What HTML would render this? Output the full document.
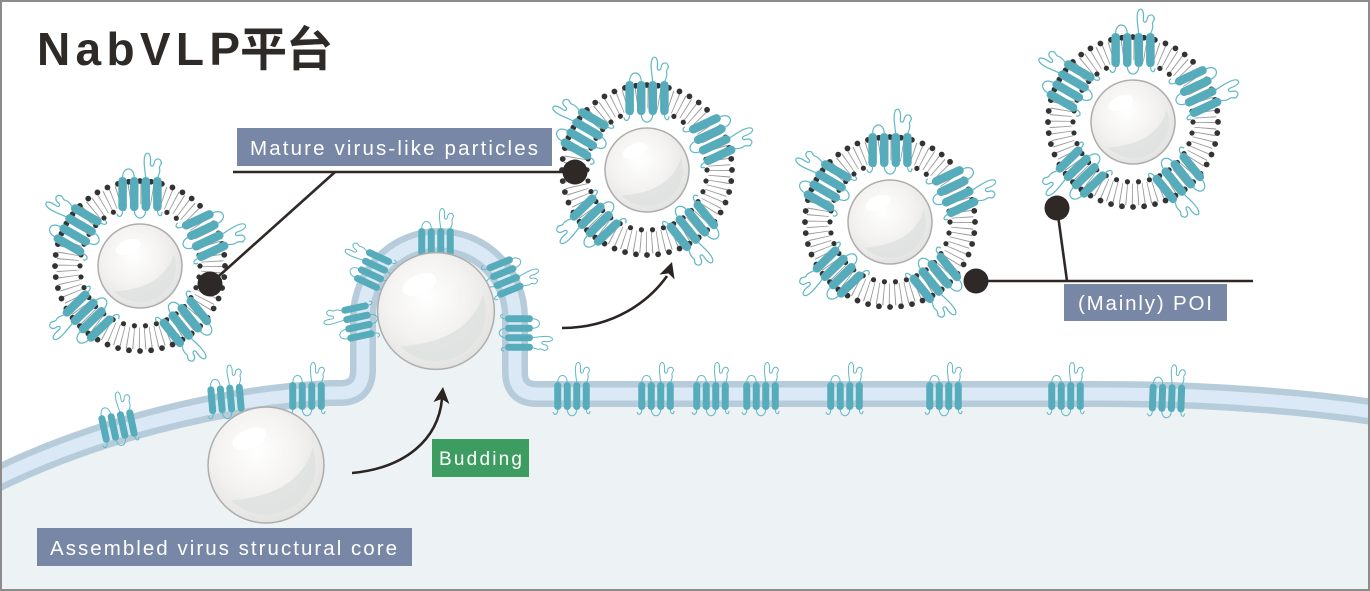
<!DOCTYPE html>
<html>
<head>
<meta charset="utf-8">
<style>
html,body{margin:0;padding:0;background:#fff;}
svg{display:block;}
text{font-family:"Liberation Sans","Noto Sans CJK SC",sans-serif;}
</style>
</head>
<body>
<svg width="1370" height="591" viewBox="0 0 1370 591" xmlns="http://www.w3.org/2000/svg">
<defs>
  <radialGradient id="sg" cx="0.42" cy="0.38" r="0.65">
    <stop offset="0" stop-color="#ffffff"/>
    <stop offset="0.55" stop-color="#f3f2f0"/>
    <stop offset="1" stop-color="#e2e2e0"/>
  </radialGradient>
  <g id="core">
    <circle r="42" fill="url(#sg)" stroke="#adadad" stroke-width="1.5" vector-effect="non-scaling-stroke"/>
    <path d="M-25.5,25.5 A36,36 0 0 0 33.8,-12.3 Q24,22 -25.5,25.5 Z" fill="#dfe2e2" opacity="0.85"/>
    <ellipse cx="-12" cy="-19" rx="13" ry="7" transform="rotate(-22 -12 -19)" fill="#ffffff" opacity="0.9"/>
  </g>
  <g id="p">
    <g fill="#56acba">
      <rect x="-17.75" y="-14" width="7" height="28" rx="3.5"/>
      <rect x="-8.25" y="-14" width="7" height="28" rx="3.5"/>
      <rect x="1.25" y="-14" width="7" height="28" rx="3.5"/>
      <rect x="10.75" y="-14" width="7" height="28" rx="3.5"/>
    </g>
    <path fill="none" stroke="#62b8c6" stroke-width="1"
      d="M-14.25,-13 C-14.5,-23 -4.5,-23 -4.75,-13
         M4.75,-13 C4,-20 2,-30 5,-33 C8,-35 9,-30 8.5,-26 C8,-22 11,-22 11.5,-25 C12,-29 16,-30 17,-27 C19,-25 15,-23 16,-21 C17,-18 15,-15 14.25,-13
         M-14.25,13 C-14,19 -18,20 -19,16
         M-4.75,13 C-4.5,22 4.5,22 4.75,13
         M14.25,13 C14.5,19 18,19 18,15"/>
  </g>
  <g id="vlp">
    <circle r="72.5" fill="none" stroke="#9a9a9a" stroke-width="22" stroke-dasharray="0.9 4.8"/>
    <circle r="85" fill="none" stroke="#333" stroke-width="5.8" stroke-linecap="round" stroke-dasharray="0 11.12"/>
    <circle r="60" fill="none" stroke="#333" stroke-width="5.2" stroke-linecap="round" stroke-dasharray="0 11.09"/>
    <use href="#p" transform="rotate(0) translate(0,-72) scale(1.22)"/>
    <use href="#p" transform="rotate(65) translate(0,-72) scale(1.22)"/>
    <use href="#p" transform="rotate(141) translate(0,-72) scale(1.22)"/>
    <use href="#p" transform="rotate(226) translate(0,-72) scale(1.22)"/>
    <use href="#p" transform="rotate(300) translate(0,-72) scale(1.22)"/>
    <use href="#core"/>
  </g>
</defs>

<rect x="0" y="0" width="1370" height="591" fill="#ffffff"/>

<!-- cell interior -->
<path d="M-10,482 C90,432 220,398 330,393 L340,393 Q363,393 363,370 L363,317 A76,76 0 0 1 515,317 L515,372 Q515,394 537,394 L1100,394 C1200,394 1300,401 1380,413 L1380,600 L-10,600 Z" fill="#edf2f5"/>
<!-- membrane -->
<path d="M-10,482 C90,432 220,398 330,393 L340,393 Q363,393 363,370 L363,317 A76,76 0 0 1 515,317 L515,372 Q515,394 537,394 L1100,394 C1200,394 1300,401 1380,413" fill="none" stroke="#b7ccda" stroke-width="26"/>
<path d="M-10,482 C90,432 220,398 330,393 L340,393 Q363,393 363,370 L363,317 A76,76 0 0 1 515,317 L515,372 Q515,394 537,394 L1100,394 C1200,394 1300,401 1380,413" fill="none" stroke="#dbe9f7" stroke-width="13"/>

<!-- membrane proteins -->
<use href="#p" transform="translate(118,426) rotate(-12)"/>
<use href="#p" transform="translate(226,399) rotate(-5)"/>
<use href="#p" transform="translate(307,396)"/>
<use href="#p" transform="translate(358,322) rotate(-102)"/>
<use href="#p" transform="translate(373,270) rotate(-65)"/>
<use href="#p" transform="translate(436,242)"/>
<use href="#p" transform="translate(505,277) rotate(68)"/>
<use href="#p" transform="translate(519,333) rotate(90)"/>
<use href="#p" transform="translate(572,396)"/>
<use href="#p" transform="translate(656,396)"/>
<use href="#p" transform="translate(711,396)"/>
<use href="#p" transform="translate(761,396)"/>
<use href="#p" transform="translate(845,396)"/>
<use href="#p" transform="translate(944,396)"/>
<use href="#p" transform="translate(1066,396)"/>
<use href="#p" transform="translate(1167,398) rotate(2)"/>

<!-- cores -->
<use href="#core" transform="translate(436,311) scale(1.39)"/>
<use href="#core" transform="translate(266,465) scale(1.38)"/>

<!-- arrows -->
<path d="M352,473 C405,468 438,440 442,399" fill="none" stroke="#2a2523" stroke-width="2.6"/>
<polygon points="443,387 449.4,404 441.8,399 433.4,402" fill="#2a2523"/>
<path d="M562,328 C615,328 650,300 667,276" fill="none" stroke="#2a2523" stroke-width="2.6"/>
<polygon points="672,262 674.6,279.4 668.4,273.4 659.4,274.6" fill="#2a2523"/>

<!-- VLPs -->
<use href="#vlp" transform="translate(140,266)"/>
<use href="#vlp" transform="translate(647,170)"/>
<use href="#vlp" transform="translate(890,222)"/>
<use href="#vlp" transform="translate(1133,122)"/>

<!-- connectors -->
<g stroke="#2e2826" stroke-width="2.6" fill="none">
  <line x1="233" y1="172" x2="575" y2="172"/>
  <line x1="335" y1="172" x2="210" y2="284"/>
  <line x1="976" y1="281" x2="1253" y2="281"/>
  <line x1="1057" y1="208" x2="1067" y2="281"/>
</g>
<g fill="#2e2826">
  <circle cx="210" cy="284" r="12.5"/>
  <circle cx="575" cy="172" r="12.5"/>
  <circle cx="976" cy="281" r="12.5"/>
  <circle cx="1057" cy="208" r="12.5"/>
</g>

<!-- labels -->
<rect x="237" y="128" width="315" height="38" fill="#7887a5"/>
<text x="250" y="155" font-size="20.5" fill="#ffffff" textLength="288" lengthAdjust="spacing">Mature virus-like particles</text>

<rect x="37" y="528" width="375" height="38" fill="#7887a5"/>
<text x="50" y="555" font-size="20.5" fill="#ffffff" textLength="347" lengthAdjust="spacing">Assembled virus structural core</text>

<rect x="432" y="439" width="97" height="38" fill="#3d9d60"/>
<text x="439" y="465" font-size="19" fill="#ffffff" textLength="83" lengthAdjust="spacing">Budding</text>

<rect x="1064" y="284" width="163" height="37" fill="#7887a5"/>
<text x="1078" y="310" font-size="20.5" fill="#ffffff" textLength="134" lengthAdjust="spacing">(Mainly) POI</text>

<!-- title -->
<text x="37" y="65" font-size="46" font-weight="bold" fill="#2e2a28" textLength="203" lengthAdjust="spacing">NabVLP</text>
<text x="240" y="66" font-size="47" font-weight="bold" fill="#2e2a28" textLength="93" lengthAdjust="spacing">平台</text>

<!-- border -->
<rect x="1" y="1" width="1368" height="589" fill="none" stroke="#8c8c8c" stroke-width="2"/>
</svg>
</body>
</html>
